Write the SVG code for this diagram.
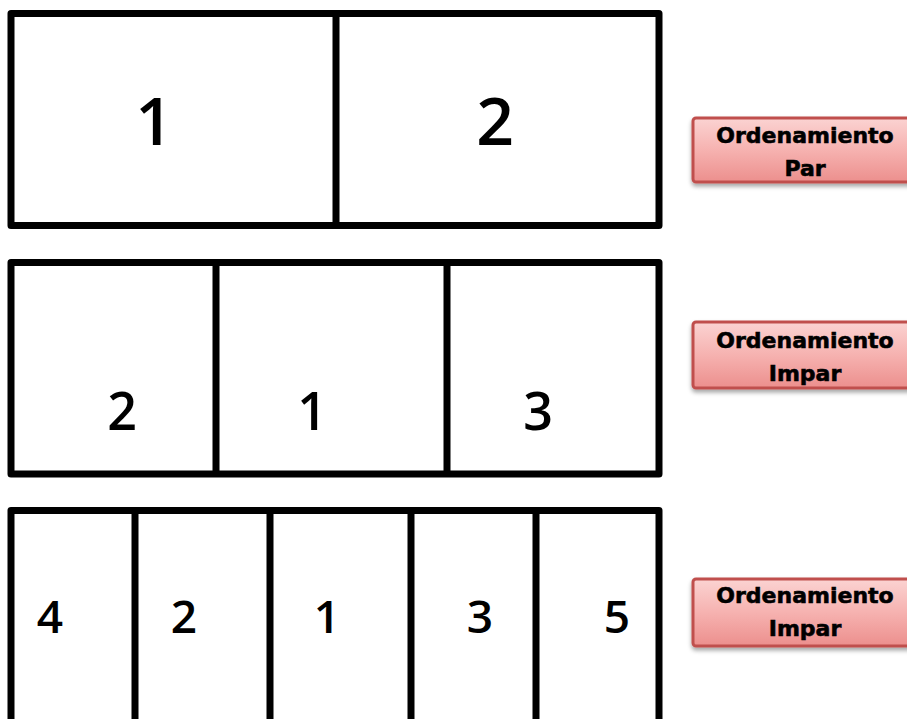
<svg xmlns="http://www.w3.org/2000/svg" width="907" height="719" viewBox="0 0 907 719">
<defs>
<linearGradient id="pink" x1="0" y1="0" x2="0" y2="1">
<stop offset="0" stop-color="#fbd3d2"/>
<stop offset="0.5" stop-color="#f6b2b0"/>
<stop offset="1" stop-color="#ec8f8d"/>
</linearGradient>
<filter id="sh" x="-10%" y="-20%" width="130%" height="160%">
<feDropShadow dx="0" dy="3" stdDeviation="2" flood-color="#000" flood-opacity="0.35"/>
</filter>
</defs>
<style>
.frame{fill:#fff;stroke:#000;stroke-width:7;stroke-linejoin:round}
.div{stroke:#000;stroke-width:7}
.big{font-family:"Open Sans","Liberation Sans",sans-serif;font-weight:600;fill:#000;text-anchor:middle}
.lbl{fill:url(#pink);stroke:#c0504d;stroke-width:3;filter:url(#sh)}
.lt{font-family:"DejaVu Sans",sans-serif;font-weight:bold;font-size:22px;fill:#000;stroke:#000;stroke-width:0.6;text-anchor:middle}
</style>
<rect width="907" height="719" fill="#fff"/>

<g id="row1">
<rect class="frame" x="11" y="13.5" width="648" height="212"/>
<line class="div" x1="336" y1="13.5" x2="336" y2="225.5"/>
<text class="big" x="154" y="145" font-size="66">1</text>
<text class="big" x="495" y="145" font-size="66">2</text>
</g>

<g id="row2">
<rect class="frame" x="11" y="262.5" width="648" height="211.5"/>
<line class="div" x1="216" y1="262.5" x2="216" y2="474"/>
<line class="div" x1="447" y1="262.5" x2="447" y2="474"/>
<text class="big" x="122" y="430" font-size="52">2</text>
<text class="big" x="312" y="430" font-size="52">1</text>
<text class="big" x="538" y="430" font-size="52">3</text>
</g>

<g id="row3">
<path class="frame" d="M11,730 V510.5 H659 V730"/>
<line class="div" x1="135" y1="510.5" x2="135" y2="730"/>
<line class="div" x1="270" y1="510.5" x2="270" y2="730"/>
<line class="div" x1="411" y1="510.5" x2="411" y2="730"/>
<line class="div" x1="536" y1="510.5" x2="536" y2="730"/>
<text class="big" x="50" y="633" font-size="46">4</text>
<text class="big" x="184" y="633" font-size="46">2</text>
<text class="big" x="327" y="633" font-size="46">1</text>
<text class="big" x="480" y="633" font-size="46">3</text>
<text class="big" x="617" y="633" font-size="46">5</text>
</g>

<g id="label1">
<rect class="lbl" x="693" y="118" width="230" height="64" rx="3"/>
<text class="lt" x="805" y="143">Ordenamiento</text>
<text class="lt" x="805" y="176">Par</text>
</g>

<g id="label2">
<rect class="lbl" x="693" y="322" width="230" height="66" rx="3"/>
<text class="lt" x="805" y="348">Ordenamiento</text>
<text class="lt" x="805" y="381">Impar</text>
</g>

<g id="label3">
<rect class="lbl" x="693" y="579" width="230" height="67" rx="3"/>
<text class="lt" x="805" y="603">Ordenamiento</text>
<text class="lt" x="805" y="636">Impar</text>
</g>

<g id="connectors"></g>
</svg>
